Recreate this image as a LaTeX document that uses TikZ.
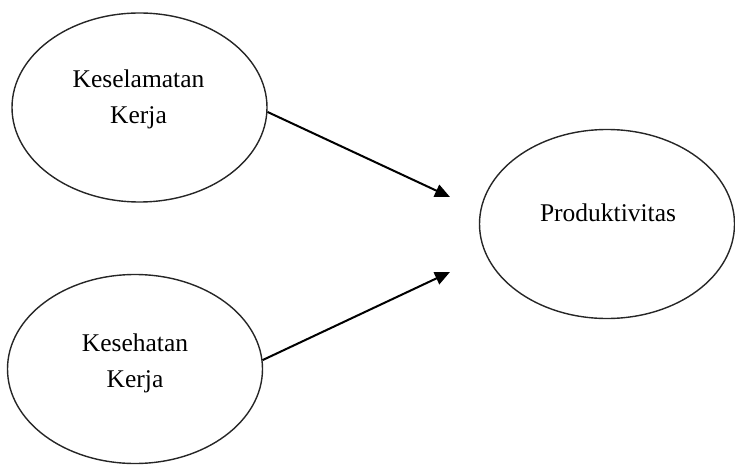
\documentclass[tikz,border=0pt]{standalone}
\usepackage{fontspec}
\setmainfont{Liberation Serif}
\usetikzlibrary{arrows.meta,shapes.geometric}
\begin{document}
\begin{tikzpicture}[x=1pt,y=-1pt,
  bubble/.style={ellipse,draw=black!85,line width=1.4pt,minimum width=255pt,minimum height=189pt,inner sep=0pt},
  lbl/.style={align=center,inner sep=0pt,font=\fontsize{25.5}{36}\selectfont,text=black},
  conn/.style={line width=2pt,-{Triangle[length=15pt,width=13pt]}}]
\useasboundingbox (0,0) rectangle (735,465);
\node[bubble] (e1) at (139.5,107.5) {};
\node[bubble] (e2) at (135,369) {};
\node[bubble] (e3) at (607,224) {};
\node[lbl] (l1) at (138.5,99) {Keselamatan\\Kerja};
\node[lbl] (l2) at (135,363) {Kesehatan\\Kerja};
\node[lbl,anchor=base] (l3) at (608,221) {Produktivitas};
\coordinate (t1) at (450,197);
\coordinate (t2) at (450,272);
\draw[conn] (e1.-2) -- (t1);
\draw[conn] (e2.4) -- (t2);
\end{tikzpicture}
\end{document}
